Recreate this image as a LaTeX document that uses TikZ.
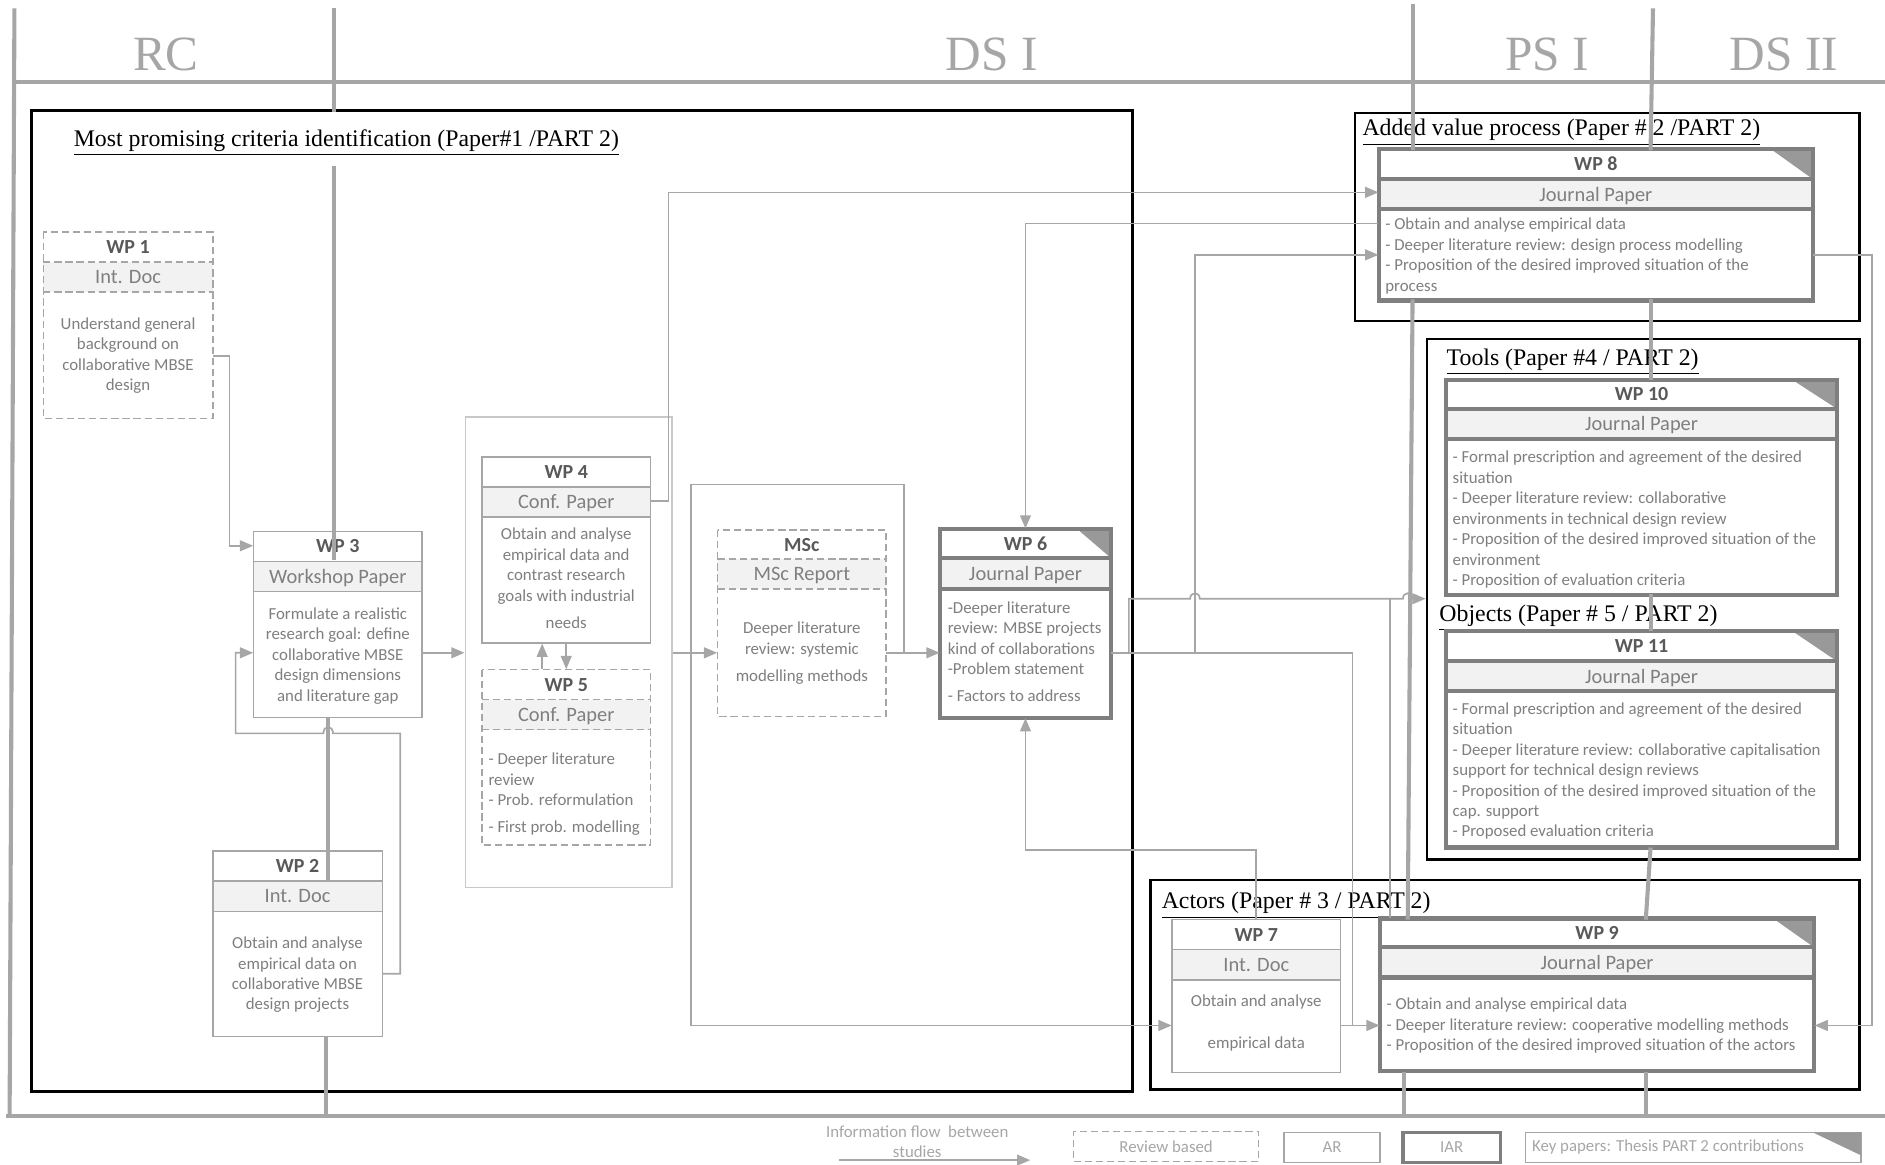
\documentclass[tikz,border=0pt]{standalone}
\usepackage{fontspec}
\setmainfont{Liberation Serif}
\newfontfamily\calfont{Carlito}
\usetikzlibrary{arrows.meta,fit}
\definecolor{lg}{HTML}{A6A6A6}
\definecolor{mg}{HTML}{7F7F7F}
\definecolor{dg}{HTML}{595959}
\definecolor{tf}{HTML}{F2F2F2}
\definecolor{tric}{HTML}{999999}
\definecolor{cg}{HTML}{C8C8C8}
\newcommand{\wpfr}[8]{%
  \node[fit={(#3,#4) (#5,#6)}, inner sep=0pt, fill=white] (#1) {};
  \fill[tf] (#3,#7) rectangle (#5,#8);
  \draw[#2] (#3,#4) rectangle (#5,#6) (#3,#7) -- (#5,#7) (#3,#8) -- (#5,#8);
}
\newcommand{\keyfr}[8]{%
  \node[fit={(#2,#3) (#4,#5)}, inner sep=0pt, fill=white] (#1) {};
  \fill[tf] (#2,#6) rectangle (#4,#7);
  \fill[tric] (#4-#8,#3) -- (#4,#3) -- (#4,#6) -- cycle;
  \draw[keybox] (#2,#3) rectangle (#4,#5) (#2,#6) -- (#4,#6) (#2,#7) -- (#4,#7);
}
\begin{document}
\begin{tikzpicture}[x=0.5pt,y=-0.5pt,
  phase/.style={draw=lg, line width=1.7pt},
  grp/.style={draw=black, line width=1.1pt, inner sep=0pt},
  flow/.style={draw=lg, line width=0.7pt, -{Triangle[length=5.5pt,width=4.5pt]}},
  link/.style={draw=lg, line width=0.7pt},
  plainbox/.style={draw=lg, line width=0.6pt},
  dashbox/.style={draw=lg, line width=0.6pt, dash pattern=on 3pt off 1.6pt},
  keybox/.style={draw=mg, line width=1.8pt},
  hdr/.style={font=\calfont\bfseries\fontsize{8.3}{10}\selectfont, text=dg, inner sep=0pt, text depth=0pt},
  typ/.style={font=\calfont\fontsize{8.5}{10}\selectfont, text=mg, inner sep=0pt, text depth=0pt},
  dsc/.style={font=\calfont\fontsize{7}{8.5}\selectfont, text=mg, inner sep=0pt},
  ttl/.style={font=\fontsize{9.9}{11}\selectfont, inner sep=0pt, anchor=west},
  big/.style={font=\fontsize{20.5}{24}\selectfont, text=lg, inner sep=0pt},
  lgt/.style={font=\calfont\fontsize{7}{8.5}\selectfont, text=lg, inner sep=0pt}
]
\useasboundingbox (0,0) rectangle (1568,968.25);

% phase labels
\node[big] (lrc) at (138,45) {RC};
\node[big] (lds1) at (825,45) {DS I};
\node[big] (lps1) at (1287,45) {PS I};
\node[big] (lds2) at (1484,45) {DS II};

% group boxes
\node[grp, fit={(26,92) (942,908)}] (gcrit) {};
\node[grp, fit={(1127,94) (1547,267)}] (gval) {};
\node[grp, fit={(1187,282) (1547,715)}] (gtool) {};
\node[grp, fit={(957,732) (1547,906)}] (gact) {};
\node[ttl] (tcrit) at (61,119) {\underline{Most promising criteria identification (Paper\#1 /PART 2)}};
\node[ttl] (tval) at (1133,110) {\underline{Added value process (Paper \# 2 /PART 2)}};
\node[ttl] (ttool) at (1203,301) {\underline{Tools (Paper \#4 / PART 2)}};
\node[ttl] (tobj) at (1197,514) {\underline{Objects (Paper \# 5 / PART 2)}};
\node[ttl] (tact) at (966,753) {\underline{Actors (Paper \# 3 / PART 2)}};

% container of WP4/WP5
\node[fit={(387,347) (559,738)}, inner sep=0pt, draw=cg, line width=0.6pt] (cont) {};

% WP boxes
\wpfr{wp1}{dashbox}{36}{193}{177}{348}{218}{243}
\node[hdr] at (106.5,205.5) {WP 1};
\node[typ] at (106.5,230.5) {Int. Doc};
\node[dsc, anchor=north, align=center] at (106.5,264) {Understand general\\background on\\collaborative MBSE\\design};

\wpfr{wp3}{plainbox}{211}{442}{351}{597}{467}{492}
\node[hdr] at (281,454.5) {WP 3};
\node[typ] at (281,479.5) {Workshop Paper};
\node[dsc, anchor=north, align=center] at (281,505) {Formulate a realistic\\research goal: define\\collaborative MBSE\\design dimensions\\and literature gap};

\wpfr{wp2}{plainbox}{177}{708}{318}{862}{733}{758}
\node[hdr] at (247.5,720.5) {WP 2};
\node[typ] at (247.5,745.5) {Int. Doc};
\node[dsc, anchor=north, align=center] at (247.5,779) {Obtain and analyse\\empirical data on\\collaborative MBSE\\design projects};

\wpfr{wp4}{plainbox}{401}{380}{541}{535}{405}{430}
\node[hdr] at (471,392.5) {WP 4};
\node[typ] at (471,417.5) {Conf. Paper};
\node[dsc, anchor=north, align=center] at (471,439) {Obtain and analyse\\empirical data and\\contrast research\\goals with industrial\\[3pt]needs};

\wpfr{wp5}{dashbox}{401}{557}{541}{703}{582}{607}
\node[hdr] at (471,569.5) {WP 5};
\node[typ] at (471,594.5) {Conf. Paper};
\node[dsc, anchor=north west, align=left] at (406,626) {- Deeper literature\\review\\- Prob. reformulation\\[2.5pt]- First prob. modelling};

\wpfr{msc}{dashbox}{597}{441}{737}{596}{465}{490}
\node[hdr] at (667,453) {MSc};
\node[typ] at (667,477.5) {MSc Report};
\node[dsc, anchor=north, align=center] at (667,517) {Deeper literature\\review: systemic\\[3pt]modelling methods};

\keyfr{wp6}{782}{440}{924}{597}{464}{490}{28}
\node[hdr] at (853,452) {WP 6};
\node[typ] at (853,477) {Journal Paper};
\node[dsc, anchor=north west, align=left] at (788,500) {-Deeper literature\\review: MBSE projects\\kind of collaborations\\-Problem statement\\[2.5pt]- Factors to address};

\wpfr{wp7}{plainbox}{975}{765}{1115}{892}{790}{815}
\node[hdr] at (1045,777.5) {WP 7};
\node[typ] at (1045,802.5) {Int. Doc};
\node[dsc, anchor=north, align=center] at (1045,827) {Obtain and analyse\\[9pt]empirical data};

\keyfr{wp8}{1147}{124}{1508}{250}{149}{174}{35}
\node[hdr] at (1327.5,136.5) {WP 8};
\node[typ] at (1327.5,161.5) {Journal Paper};
\node[dsc, anchor=north west, align=left] at (1152,181) {- Obtain and analyse empirical data\\- Deeper literature review: design process modelling\\- Proposition of the desired improved situation of the\\process};

\keyfr{wp10}{1203}{316}{1528}{495}{340}{365}{37}
\node[hdr] at (1365.5,328) {WP 10};
\node[typ] at (1365.5,352.5) {Journal Paper};
\node[dsc, anchor=north west, align=left] at (1208,375) {- Formal prescription and agreement of the desired\\situation\\- Deeper literature review: collaborative\\environments in technical design review\\- Proposition of the desired improved situation of the\\environment\\- Proposition of evaluation criteria};

\keyfr{wp11}{1203}{525}{1528}{705}{550}{575}{37}
\node[hdr] at (1365.5,537.5) {WP 11};
\node[typ] at (1365.5,562.5) {Journal Paper};
\node[dsc, anchor=north west, align=left] at (1208,584) {- Formal prescription and agreement of the desired\\situation\\- Deeper literature review: collaborative capitalisation\\support for technical design reviews\\- Proposition of the desired improved situation of the\\cap. support\\- Proposed evaluation criteria};

\keyfr{wp9}{1148}{764}{1509}{891}{788}{813}{34}
\node[hdr] at (1328.5,776) {WP 9};
\node[typ] at (1328.5,800.5) {Journal Paper};
\node[dsc, anchor=north west, align=left] at (1153,830) {- Obtain and analyse empirical data\\- Deeper literature review: cooperative modelling methods\\- Proposition of the desired improved situation of the actors};

% connectors
\draw[flow] (wp1.east |- 0,296) -- (191,296) -- (191,454) -- (wp3.west |- 0,454);
\draw[flow] (wp2.east |- 0,810) -- (333,810) -- (333,610) -- (277,610) .. controls (277,603) and (269,603) .. (269,610) -- (196,610) -- (196,543) -- (wp3.west |- 0,543);
\draw[flow] (wp3.east |- 0,543) -- (cont.west |- 0,543);
\draw[flow] (cont.east |- 0,543) -- (msc.west |- 0,543);
\coordinate (j1) at (575,543);
\draw[link] (j1) -- (575,403) -- (752,403) -- (752,543);
\draw[flow] (j1) -- (575,853) -- (wp7.west |- 0,853);
\draw[flow] (msc.east |- 0,543) -- (wp6.west |- 0,543);
\draw[flow] (451,0 |- wp5.north) -- (451,0 |- wp4.south);
\draw[flow] (471,0 |- wp4.south) -- (471,0 |- wp5.north);
\draw[flow] (wp4.east |- 0,417) -- (556,417) -- (556,160) -- (wp8.west |- 0,160);
\draw[flow] (wp8.west |- 0,186) -- (wp6.north |- 0,186) -- (wp6.north);
\draw[flow] (wp6.east |- 0,543) -- (1125,543) -- (1125,853) -- (wp9.west |- 0,853);
\draw[flow] (994,543) -- (994,212) -- (wp8.west |- 0,212);
\draw[flow] (939,543) -- (939,498) -- (990,498) .. controls (990,492) and (998,492) .. (998,498) -- (1167,498) .. controls (1167,492) and (1175,492) .. (1175,498) -- (gtool.west |- 0,498);
\draw[link] (1156,498) -- (1156,0 |- wp9.north);
\draw[flow] (wp7.north) -- (wp7.north |- 0,707) -- (wp6.south |- 0,707) -- (wp6.south);
\draw[link] (wp7.east |- 0,853) -- (1125,853);
\draw[flow] (wp8.east |- 0,212) -- (1557,212) -- (1557,853) -- (wp9.east |- 0,853);

% phase lines
\draw[phase] (12,7) -- (8,928);
\draw[phase] (12,68) -- (1568,68);
\draw[phase] (5,928) -- (1568,928);
\draw[phase] (278,7) -- (278,93);
\draw[phase] (278,138) -- (278,466);
\draw[phase] (273,597) -- (273,733);
\draw[phase] (271,862) -- (271,928);
\draw[phase] (1175,3) -- (1175,125);
\draw[phase] (1175,249) -- (1171,765);
\draw[phase] (1168,892) -- (1168,928);
\draw[phase] (1375,7) -- (1373,125);
\draw[phase] (1373,249) -- (1373,316);
\draw[phase] (1373,494) -- (1373,525);
\draw[phase] (1373,705) -- (1369,765);
\draw[phase] (1369,892) -- (1369,928);

% legend
\coordinate (lfa) at (698,965);
\coordinate (lfb) at (857,965);
\draw[flow] (lfa) -- (lfb);
\node[lgt] (lt1) at (763,941) {Information flow\ \ between};
\node[lgt] (lt2) at (763,958) {studies};
\node[fit={(893,941) (1047,966)}, inner sep=0pt, dashbox] (lrev) {};
\node[lgt] at (lrev.center) {Review based};
\node[fit={(1068,942) (1148,967)}, inner sep=0pt, plainbox] (lar) {};
\node[lgt] at (lar.center) {AR};
\node[fit={(1167,942) (1248,967)}, inner sep=0pt, draw=mg, line width=1.5pt] (liar) {};
\node[lgt] at (liar.center) {IAR};
\node[fit={(1269,942) (1548,967)}, inner sep=0pt, plainbox] (lkey) {};
\fill[tric] (1508,942) -- (1548,942) -- (1548,961) -- cycle;
\node[lgt, anchor=west] at (1274,954.5) {Key papers: Thesis PART 2 contributions};
\end{tikzpicture}
\end{document}
